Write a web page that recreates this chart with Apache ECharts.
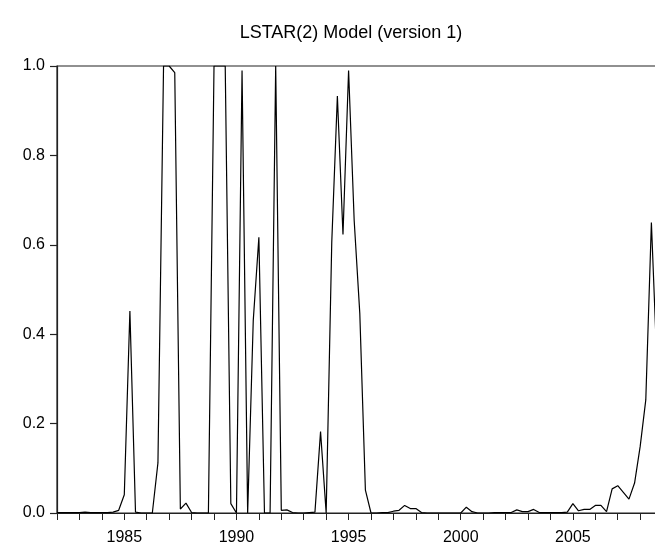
<!DOCTYPE html>
<html>
<head>
<meta charset="utf-8">
<script src="https://cdn.jsdelivr.net/npm/echarts@6/dist/echarts.min.js"></script>
<style>
html,body{margin:0;padding:0;background:#fff;}
#chart{width:655px;height:554px;}
</style>
</head>
<body>
<div id="chart"></div>
<script>
const chartTitle = 'LSTAR(2) Model (version 1)';
const startYear = 1982;
const endYear = 2008;
// quarterly values, 1982Q1 .. 2008Q4
const values = [
  0.001, 0.001, 0.001, 0.001, 0.001, 0.002, 0.001, 0.001, 0.001, 0.001,
  0.002, 0.006, 0.041, 0.452, 0.002, 0.000, 0.000, 0.000, 0.112, 1.000,
  1.000, 0.985, 0.009, 0.022, 0.001, 0.000, 0.000, 0.000, 1.000, 1.000,
  1.000, 0.021, 0.000, 0.990, 0.000, 0.431, 0.617, 0.000, 0.000, 1.000,
  0.006, 0.007, 0.001, 0.000, 0.000, 0.001, 0.002, 0.182, 0.000, 0.606,
  0.933, 0.623, 0.990, 0.654, 0.446, 0.051, 0.000, 0.000, 0.001, 0.001,
  0.004, 0.006, 0.017, 0.010, 0.010, 0.001, 0.000, 0.000, 0.000, 0.000,
  0.000, 0.000, 0.000, 0.013, 0.003, 0.000, 0.000, 0.000, 0.001, 0.001,
  0.001, 0.001, 0.007, 0.003, 0.003, 0.008, 0.001, 0.001, 0.001, 0.001,
  0.001, 0.002, 0.021, 0.005, 0.008, 0.008, 0.017, 0.017, 0.003, 0.054,
  0.061, 0.046, 0.031, 0.067, 0.149, 0.253, 0.650, 0.330
];
const yTicks = [0.0, 0.2, 0.4, 0.6, 0.8, 1.0];
const labelYears = [1985, 1990, 1995, 2000, 2005];

const quarters = [];
for (let y = startYear; y <= endYear; y++) {
  for (let q = 1; q <= 4; q++) quarters.push(y + 'Q' + q);
}
const seriesData = quarters.map((lab, i) => {
  const yr = parseInt(lab.slice(0, 4), 10);
  const q = parseInt(lab.slice(5), 10);
  return [yr + (q - 1) / 4, values[i]];
});

const font = '"Liberation Sans", Arial, Helvetica, sans-serif';
const axisColor = '#222';
const xMin = startYear, xMax = endYear + 0.75;
const gridBox = {left: 57, right: -2, top: 66, bottom: 41, containLabel: false, outerBoundsMode: 'none'};

const chart = echarts.init(document.getElementById('chart'));
chart.setOption({
  animation: false,
  backgroundColor: '#fff',
  title: {
    text: chartTitle,
    left: 346,
    top: 19,
    textAlign: 'center',
    textStyle: {fontFamily: font, fontSize: 18, fontWeight: 'normal', color: '#000'}
  },
  grid: [
    Object.assign({show: true, borderColor: axisColor, borderWidth: 1.2, backgroundColor: 'transparent'}, gridBox),
    Object.assign({show: false}, gridBox)
  ],
  xAxis: [{
    gridIndex: 0, type: 'value', min: xMin, max: xMax, interval: 1,
    axisLine: {show: false}, axisTick: {show: false}, splitLine: {show: false},
    axisLabel: {
      fontFamily: font, fontSize: 16, color: '#000', margin: 17,
      formatter: function (v) {
        const r = Math.round(v);
        return (Math.abs(v - r) < 1e-6 && labelYears.indexOf(r) >= 0) ? String(r) : '';
      }
    }
  }, {
    gridIndex: 1, type: 'value', min: xMin, max: xMax, interval: 1,
    axisLine: {show: true, onZero: false, lineStyle: {color: axisColor, width: 1.2}},
    axisTick: {show: true, length: 7, lineStyle: {color: axisColor, width: 1}},
    axisLabel: {show: false}, splitLine: {show: false}
  }],
  yAxis: [{
    gridIndex: 0, type: 'value', min: 0, max: 1, interval: 0.2,
    axisLine: {show: false}, axisTick: {show: false}, splitLine: {show: false},
    axisLabel: {
      fontFamily: font, fontSize: 16, color: '#000', margin: 12,
      formatter: function (v) {
        const t = yTicks.find(k => Math.abs(k - v) < 1e-6);
        return t === undefined ? '' : t.toFixed(1);
      }
    }
  }, {
    gridIndex: 1, type: 'value', min: 0, max: 1, interval: 0.2,
    axisLine: {show: true, onZero: false, lineStyle: {color: axisColor, width: 1.2}},
    axisTick: {show: true, length: 7, lineStyle: {color: axisColor, width: 1.2}},
    axisLabel: {show: false}, splitLine: {show: false}
  }],
  series: [{
    type: 'line',
    xAxisIndex: 0,
    yAxisIndex: 0,
    data: seriesData,
    showSymbol: false,
    symbol: 'none',
    clip: true,
    lineStyle: {color: '#000', width: 1.2},
    z: 3
  }]
});
</script>
</body>
</html>
